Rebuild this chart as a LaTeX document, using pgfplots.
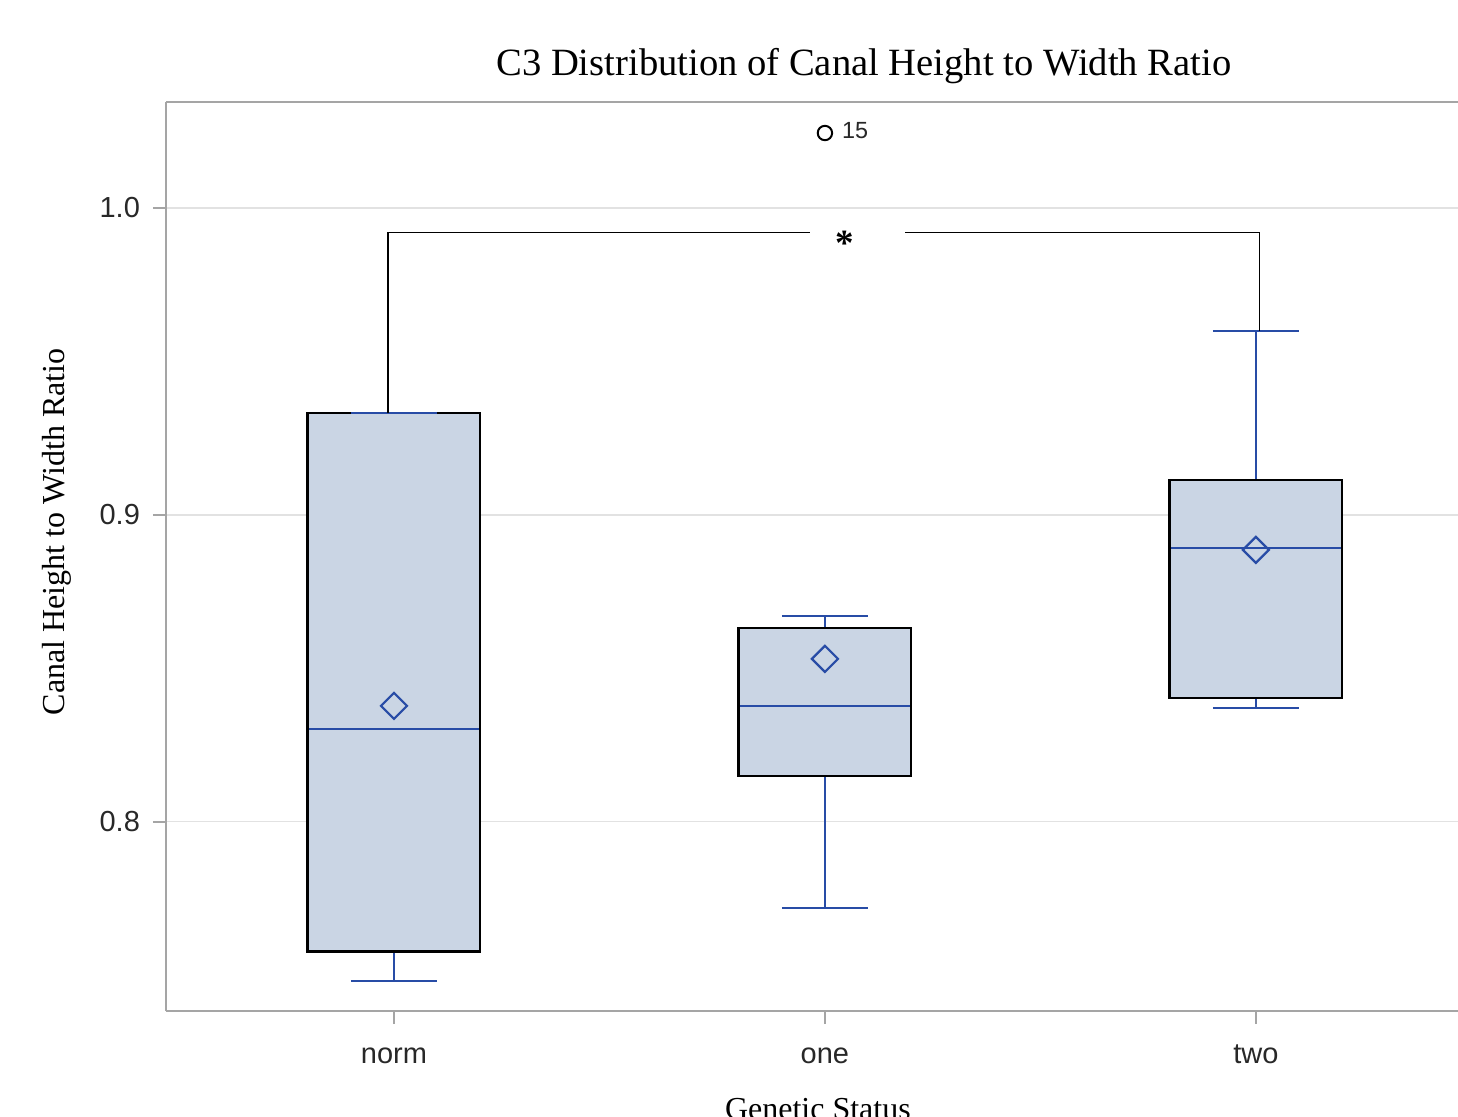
\documentclass[border=0pt]{standalone}
\usepackage{fontspec}
\setmainfont{Liberation Serif}
\newfontfamily\sansf{Liberation Sans}
\usepackage{pgfplots}
\pgfplotsset{compat=1.18}
\definecolor{boxfill}{RGB}{202,213,228}
\definecolor{sasblue}{RGB}{40,76,166}
\definecolor{axgray}{RGB}{165,165,165}
\definecolor{gridgray}{RGB}{226,226,226}
\definecolor{ticktext}{RGB}{40,40,40}
\begin{document}
\begin{tikzpicture}
\begin{axis}[
  name=ax,
  scale only axis,
  width=646pt, height=454.5pt,
  xmin=-0.529, xmax=2.469,
  ymin=0.7384, ymax=1.0345,
  axis x line*=bottom, axis y line*=left,
  axis line style={-, draw=axgray, line width=1pt},
  xtick={0,1,2}, xticklabels={norm,one,two},
  ytick={0.8,0.9,1.0},
  /pgf/number format/assume math mode=true,
  yticklabel style={/pgf/number format/fixed, /pgf/number format/precision=1, /pgf/number format/fixed zerofill, xshift=-3pt},
  xticklabel style={anchor=base, yshift=-19.5pt},
  tick label style={font=\sansf\fontsize{14.5}{16}\selectfont, text=ticktext},
  tick style={axgray, line width=1pt},
  tick align=outside, major tick length=6.5pt,
  ymajorgrids, major grid style={gridgray, line width=0.6pt},
  every axis title shift=0pt,
  title={C3 Distribution of Canal Height to Width Ratio},
  title style={at={(axis description cs:0.5402,1.0297)}, anchor=base, font=\fontsize{19.3}{22}\selectfont},
  xlabel={Genetic Status},
  xlabel style={at={(axis description cs:0.5046,-0.1188)}, anchor=base, font=\fontsize{16}{19}\selectfont},
  ylabel={Canal Height to Width Ratio},
  ylabel style={at={(axis description cs:-0.0782,0.527)}, anchor=base, font=\fontsize{16}{19}\selectfont},
  clip=false,
]
% ---- box fills (Q1..Q3, half width 0.2)
\addplot[draw=none, fill=boxfill] coordinates {(-0.2,0.7577) (0.2,0.7577) (0.2,0.9332) (-0.2,0.9332)} -- cycle;
\addplot[draw=none, fill=boxfill] coordinates {(0.8,0.8150) (1.2,0.8150) (1.2,0.8632) (0.8,0.8632)} -- cycle;
\addplot[draw=none, fill=boxfill] coordinates {(1.8,0.8404) (2.2,0.8404) (2.2,0.9114) (1.8,0.9114)} -- cycle;
% ---- medians
\addplot[sasblue, line width=1.1pt] coordinates {(-0.2,0.8303) (0.2,0.8303)};
\addplot[sasblue, line width=1.1pt] coordinates {(0.8,0.8378) (1.2,0.8378)};
\addplot[sasblue, line width=1.1pt] coordinates {(1.8,0.8893) (2.2,0.8893)};
% ---- whisker stems
\addplot[sasblue, line width=1.1pt] coordinates {(0,0.7577) (0,0.7482)};
\addplot[sasblue, line width=1.1pt] coordinates {(1,0.8150) (1,0.7720)};
\addplot[sasblue, line width=1.1pt] coordinates {(1,0.8632) (1,0.8671)};
\addplot[sasblue, line width=1.1pt] coordinates {(2,0.8404) (2,0.8371)};
\addplot[sasblue, line width=1.1pt] coordinates {(2,0.9114) (2,0.9599)};
% ---- box outlines
\addplot[draw=black, line width=1.3pt] coordinates {(-0.2,0.7577) (0.2,0.7577) (0.2,0.9332) (-0.2,0.9332)} -- cycle;
\addplot[draw=black, line width=1.3pt] coordinates {(0.8,0.8150) (1.2,0.8150) (1.2,0.8632) (0.8,0.8632)} -- cycle;
\addplot[draw=black, line width=1.3pt] coordinates {(1.8,0.8404) (2.2,0.8404) (2.2,0.9114) (1.8,0.9114)} -- cycle;
% ---- whisker caps (half width 0.1)
\addplot[sasblue, line width=1.1pt] coordinates {(-0.1,0.7482) (0.1,0.7482)};
\addplot[sasblue, line width=1.1pt] coordinates {(-0.1,0.9332) (0.1,0.9332)};
\addplot[sasblue, line width=1.1pt] coordinates {(0.9,0.7720) (1.1,0.7720)};
\addplot[sasblue, line width=1.1pt] coordinates {(0.9,0.8671) (1.1,0.8671)};
\addplot[sasblue, line width=1.1pt] coordinates {(1.9,0.8371) (2.1,0.8371)};
\addplot[sasblue, line width=1.1pt] coordinates {(1.9,0.9599) (2.1,0.9599)};
% ---- means
\addplot[only marks, mark=square, mark size=4.6pt, mark options={rotate=45, draw=sasblue, line width=1.1pt, fill=none}] coordinates {(0,0.8378) (1,0.8531) (2,0.8886)};
% ---- outlier
\addplot[only marks, mark=o, mark size=3.6pt, mark options={draw=black, line width=1pt}] coordinates {(1,1.0244)};
\node[anchor=west, inner sep=0pt, font=\sansf\fontsize{11.7}{13}\selectfont, text=ticktext] at (axis cs:1.039,1.0251) {15};
% ---- significance bracket
\addplot[black, line width=0.6pt] coordinates {(-0.014,0.9332) (-0.014,0.9919) (0.965,0.9919)};
\addplot[black, line width=0.6pt] coordinates {(1.186,0.9919) (2.009,0.9919) (2.009,0.9599)};
\node[anchor=base, inner sep=0pt, font=\bfseries\fontsize{18.5}{20}\selectfont] at (axis cs:1.046,0.9845) {*};
\end{axis}
\draw[axgray, line width=1pt] (ax.north west) -- (ax.north east);
\pgfresetboundingbox
\path (ax.south west) ++(-83pt,-52.5pt) rectangle ++(729pt,558pt);
\end{tikzpicture}
\end{document}
